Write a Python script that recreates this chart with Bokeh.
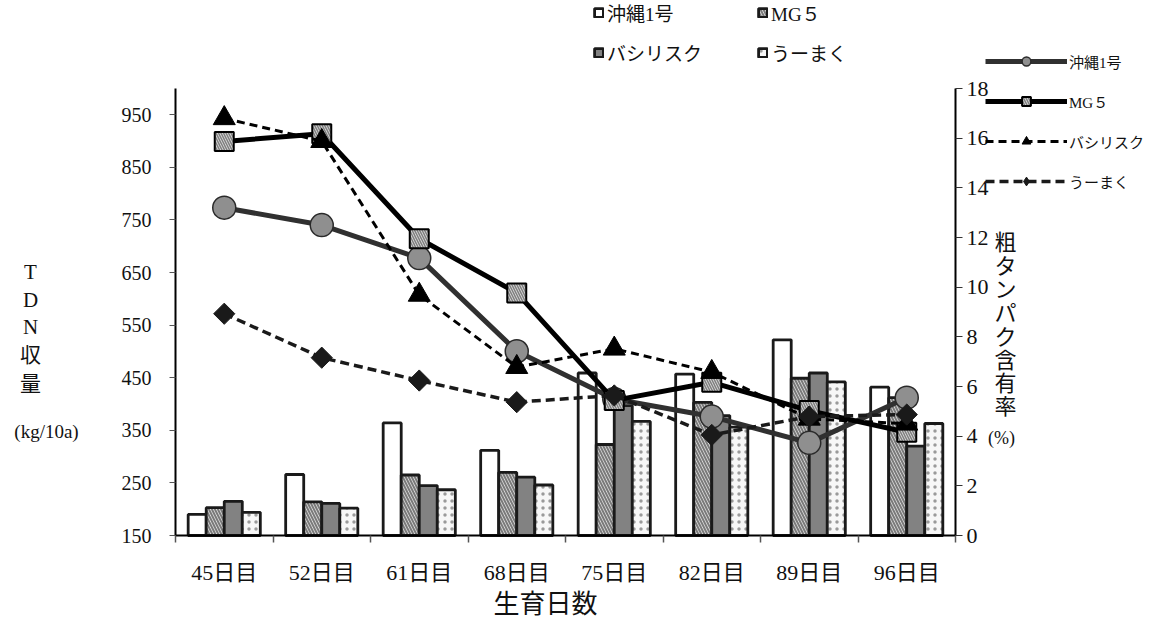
from bokeh.plotting import figure
from bokeh.models import (Range1d, LinearAxis, FixedTicker, Label, Legend,
                          LegendItem, ColumnDataSource)
from bokeh.embed import file_html
from bokeh.resources import INLINE

# ---------------- data ----------------
days = ["45日目", "52日目", "61日目", "68日目", "75日目", "82日目", "89日目", "96日目"]
varieties = ["沖縄1号", "MG５", "バシリスク", "うーまく"]

# TDN yield (kg/10a), bars, left axis
tdn_okinawa = [190, 266, 364, 312, 459, 457, 522, 432]
tdn_mg5 = [203, 214, 265, 270, 323, 403, 449, 412]
tdn_basilisk = [215, 211, 245, 261, 397, 378, 459, 320]
tdn_umaku = [194, 202, 237, 246, 367, 356, 442, 363]

# crude protein content (%), lines, right axis
cp_okinawa = [13.2, 12.5, 11.17, 7.42, 5.5, 4.79, 3.73, 5.55]
cp_mg5 = [15.87, 16.18, 11.95, 9.77, 5.44, 6.17, 5.03, 4.16]
cp_basilisk = [16.8, 15.88, 9.69, 6.78, 7.52, 6.58, 4.7, 4.5]
cp_umaku = [8.93, 7.16, 6.24, 5.37, 5.64, 4.05, 4.79, 4.87]

left_ticks = [150, 250, 350, 450, 550, 650, 750, 850, 950]
left_lim = (150, 1000)
right_ticks = [0, 2, 4, 6, 8, 10, 12, 14, 16, 18]
right_lim = (0, 18)

SERIF = "'Liberation Serif', 'Noto Sans CJK JP'"
JP = "'Noto Sans CJK JP'"

# ---------------- layout (pixels of the plotting box inside the canvas) ----
W, H = 1171, 622
FL, FR, FT, FB = 175, 955, 88, 535
n = len(days)


def extend(lo, hi, top_px, bottom_px):
    per = (hi - lo) / (FB - FT)
    return Range1d(lo - bottom_px * per, hi + top_px * per)


xper = n / (FR - FL)
p = figure(width=W, height=H, output_backend="svg", toolbar_location=None,
           x_range=Range1d(-FL * xper, n + (W - FR) * xper),
           y_range=extend(*left_lim, FT, H - FB),
           x_axis_type=None, y_axis_type=None,
           min_border=0, min_border_left=0, min_border_right=0,
           min_border_top=0, min_border_bottom=0)
p.outline_line_color = None
p.background_fill_color = "white"
p.border_fill_color = "white"
p.extra_y_ranges = {"pct": extend(*right_lim, FT, H - FB)}

centers = [i + 0.5 for i in range(n)]

# bottom axis: labels at category centres, small ticks at category boundaries
xa = LinearAxis(fixed_location=left_lim[0], bounds=(0, n),
                ticker=FixedTicker(ticks=centers, minor_ticks=list(range(n + 1))))
xa.major_label_overrides = {c: d for c, d in zip(centers, days)}
xa.major_tick_out = 0
xa.major_tick_in = 0
xa.minor_tick_out = 7
xa.minor_tick_in = 0
xa.minor_tick_line_color = "#555555"
xa.minor_tick_line_width = 1.5
xa.axis_line_color = "black"
xa.axis_line_width = 2
xa.major_label_standoff = 17
xa.major_label_text_font = SERIF
xa.major_label_text_font_size = "22px"
xa.major_label_text_color = "#111111"
p.add_layout(xa, "below")

ya = LinearAxis(fixed_location=0, bounds=left_lim,
                ticker=FixedTicker(ticks=left_ticks))
ya.major_tick_out = 6
ya.major_tick_in = 0
ya.minor_tick_out = 0
ya.minor_tick_in = 0
ya.axis_line_width = 2
ya.axis_line_color = "black"
ya.major_tick_line_color = "#555555"
ya.major_label_standoff = 18
ya.major_label_text_font = SERIF
ya.major_label_text_font_size = "20px"
ya.major_label_text_color = "#111111"
p.add_layout(ya, "left")

ra = LinearAxis(y_range_name="pct", fixed_location=n, bounds=right_lim,
                ticker=FixedTicker(ticks=right_ticks))
ra.major_tick_out = 7
ra.major_tick_in = 0
ra.minor_tick_out = 0
ra.minor_tick_in = 0
ra.axis_line_width = 2
ra.axis_line_color = "black"
ra.major_tick_line_color = "#333333"
ra.major_label_standoff = 4
ra.major_label_text_font = SERIF
ra.major_label_text_font_size = "22px"
ra.major_label_text_color = "#111111"
p.add_layout(ra, "right")

# ---------------- bars ----------------
bw = 0.185
offsets = [-1.5 * bw, -0.5 * bw, 0.5 * bw, 1.5 * bw]
bar_vals = [tdn_okinawa, tdn_mg5, tdn_basilisk, tdn_umaku]
bar_styles = [
    dict(fill_color="white"),
    dict(fill_color="#e6e6e6", hatch_pattern="\\", hatch_color="#7a7a7a",
         hatch_scale=6, hatch_weight=2),
    dict(fill_color="#828282"),
    dict(fill_color="#f7f7f7", hatch_pattern=".", hatch_color="#9a9a9a",
         hatch_scale=7, hatch_weight=1.5),
]
bar_rs = []
for name, vals, off, st in zip(varieties, bar_vals, offsets, bar_styles):
    src = ColumnDataSource(dict(x=[c + off for c in centers], top=vals))
    r = p.vbar(x="x", top="top", bottom=left_lim[0], width=bw, source=src,
               line_color="#1a1a1a", line_width=2.8, **st)
    bar_rs.append(r)

# ---------------- lines ----------------
line_vals = [cp_okinawa, cp_mg5, cp_basilisk, cp_umaku]
line_styles = [
    dict(line_color="#303030", line_width=5, line_dash="solid"),
    dict(line_color="black", line_width=5, line_dash="solid"),
    dict(line_color="black", line_width=3, line_dash="8 5"),
    dict(line_color="#1a1a1a", line_width=3.5, line_dash="9 5"),
]
marker_styles = [
    dict(marker="circle", size=23, fill_color="#8f8f8f", line_color="#2a2a2a",
         line_width=1.5),
    dict(marker="square", size=19, fill_color="#dcdcdc", line_color="black",
         line_width=2, hatch_pattern="\\", hatch_color="#808080", hatch_scale=5,
         hatch_weight=1.5),
    dict(marker="triangle", size=22, fill_color="black", line_color="black",
         line_width=1),
    dict(marker="square", angle=0.7854, size=15, fill_color="#1a1a1a",
         line_color="#1a1a1a", line_width=1),
]
legend_line_items = []
for i, (name, vals, ls, ms) in enumerate(zip(varieties, line_vals, line_styles,
                                              marker_styles)):
    src = ColumnDataSource(dict(x=centers, y=vals))
    lr = p.line("x", "y", source=src, y_range_name="pct", **ls)
    sr = p.scatter("x", "y", source=src, y_range_name="pct", **ms)
    rends = [lr, sr]
    if i == 3:
        # legend swatch only: a diamond (legend glyphs ignore marker angle)
        proxy = ColumnDataSource(dict(x=[float("nan")], y=[float("nan")]))
        dr = p.scatter("x", "y", source=proxy, y_range_name="pct",
                       marker="diamond", size=1, fill_color="#1a1a1a",
                       line_color="#1a1a1a")
        rends = [lr, dr]
    legend_line_items.append(LegendItem(label=name, renderers=rends))


# ---------------- legends ----------------
def bar_legend(items, y_bottom):
    lg = Legend(items=items, orientation="horizontal",
                location=(593, H - y_bottom),
                glyph_width=11, glyph_height=11, label_standoff=3,
                label_width=150, label_height=22, spacing=0, padding=0,
                margin=0, border_line_color=None, background_fill_alpha=0,
                label_text_font=SERIF, label_text_font_size="19px",
                label_text_color="#111111")
    p.add_layout(lg, "center")


bar_legend([LegendItem(label=varieties[0], renderers=[bar_rs[0]]),
            LegendItem(label=varieties[1], renderers=[bar_rs[1]])], 26)
bar_legend([LegendItem(label=varieties[2], renderers=[bar_rs[2]]),
            LegendItem(label=varieties[3], renderers=[bar_rs[3]])], 66)

rl = Legend(items=legend_line_items, orientation="vertical",
            location=(985, H - 192),
            glyph_width=82, glyph_height=22, label_standoff=2, label_height=22,
            spacing=18, padding=0, margin=0, border_line_color=None,
            background_fill_alpha=0, label_text_font=SERIF,
            label_text_font_size="15px", label_text_color="#111111")
p.add_layout(rl, "center")


# ---------------- axis titles ----------------
def lab(text, X, Y, size, font=SERIF, align="center"):
    p.add_layout(Label(x=X, y=H - Y, x_units="screen", y_units="screen",
                       text=text, text_font=font, text_font_size=size,
                       text_align=align, text_baseline="middle",
                       text_color="#111111"))


for ch, Y in zip(["T", "D", "N", "収", "量"], [271, 299, 326, 354, 383]):
    lab(ch, 30, Y, "21px")
lab("(kg/10a)", 46, 431, "19px")

for ch, Y in zip(["粗", "タ", "ン", "パ", "ク", "含", "有", "率"],
                 [242, 266, 289, 313, 337, 360, 383, 406]):
    lab(ch, 1005, Y, "22px")
lab("(%)", 1001, 437, "18px")

lab("生育日数", 545, 601, "26px", font=JP)

open("out.html", "w").write(file_html(p, INLINE))
